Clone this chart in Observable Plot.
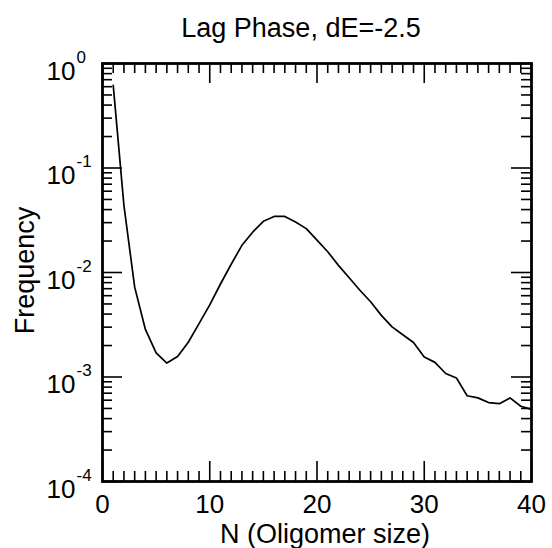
<!DOCTYPE html>
<html>
<head>
<meta charset="utf-8">
<script src="https://cdn.jsdelivr.net/npm/d3@7"></script>
<script src="https://cdn.jsdelivr.net/npm/@observablehq/plot@0.6"></script>
<style>
  html, body { margin: 0; padding: 0; background: #fff; }
</style>
</head>
<body>
<div id="chart"></div>
<script>
// ---- data ----
const titleText = "Lag Phase, dE=-2.5";
const xLabel = "N (Oligomer size)";
const yLabel = "Frequency";
const sizes = [1,2,3,4,5,6,7,8,9,10,11,12,13,14,15,16,17,18,19,20,
               21,22,23,24,25,26,27,28,29,30,31,32,33,34,35,36,37,38,39,40];
const frequency = [0.617,0.0437,0.00724,0.00285,0.0017,0.00136,0.00157,0.00215,0.00324,0.0049,
                   0.00776,0.0120,0.0182,0.0243,0.0309,0.0344,0.0344,0.0304,0.0263,0.0204,
                   0.0158,0.0117,0.0089,0.00676,0.00525,0.00389,0.00302,0.00254,0.00214,0.00155,
                   0.00138,0.00108,0.000977,0.000661,0.000631,0.000569,0.000556,0.000631,0.000525,0.00049];
const xMajorTicks = [0,10,20,30,40];
const yDecadeExponents = [0,-1,-2,-3,-4];
const yMinorMultipliers = [2,3,4,5,6,7,8,9];

// ---- derived tables ----
const series = sizes.map((n, i) => ({n, f: frequency[i]}));
const xMinorTicks = d3.range(0, 41, 1).filter(v => v % 10 !== 0);
const yMajorTicks = yDecadeExponents.map(e => Math.pow(10, e));
const yMinorTicks = [];
for (const e of yDecadeExponents) if (e < 0) for (const m of yMinorMultipliers) yMinorTicks.push(m * Math.pow(10, e));

const W = 552, H = 548;
const mL = 102, mR = 21, mT = 63, mB = 67;
const innerW = W - mL - mR, innerH = H - mT - mB;
const majorLen = 20, minorLen = 10;
const font = "'Liberation Sans', Arial, Helvetica, sans-serif";

const chart = Plot.plot({
  width: W, height: H,
  marginLeft: mL, marginRight: mR, marginTop: mT, marginBottom: mB,
  style: {fontFamily: font, background: "#fff", color: "#000", overflow: "visible"},
  x: {domain: [0, 40], axis: null},
  y: {type: "log", domain: [1e-4, 1], axis: null},
  marks: [
    // x ticks bottom & top
    Plot.ruleX(xMinorTicks, {x: d => d, insetTop: innerH - minorLen, stroke: "#000", strokeWidth: 1.6}),
    Plot.ruleX(xMajorTicks, {x: d => d, insetTop: innerH - majorLen, stroke: "#000", strokeWidth: 1.6}),
    Plot.ruleX(xMinorTicks, {x: d => d, insetBottom: innerH - minorLen, stroke: "#000", strokeWidth: 1.6}),
    Plot.ruleX(xMajorTicks, {x: d => d, insetBottom: innerH - majorLen, stroke: "#000", strokeWidth: 1.6}),
    // y ticks left & right
    Plot.ruleY(yMinorTicks, {y: d => d, insetRight: innerW - minorLen, stroke: "#000", strokeWidth: 1.6}),
    Plot.ruleY(yMajorTicks, {y: d => d, insetRight: innerW - majorLen, stroke: "#000", strokeWidth: 1.6}),
    Plot.ruleY(yMinorTicks, {y: d => d, insetLeft: innerW - minorLen, stroke: "#000", strokeWidth: 1.6}),
    Plot.ruleY(yMajorTicks, {y: d => d, insetLeft: innerW - majorLen, stroke: "#000", strokeWidth: 1.6}),
    // curve
    Plot.line(series, {x: "n", y: "f", stroke: "#000", strokeWidth: 1.7}),
    // frame
    Plot.frame({stroke: "#000", strokeWidth: 2.8}),
    // x tick labels
    Plot.text(xMajorTicks, {x: d => d, frameAnchor: "bottom", lineAnchor: "middle", textAnchor: "middle", text: d => String(d), dy: 23, fontSize: 26, fill: "#000"}),
    // y tick labels: base and exponent
    Plot.text(yMajorTicks, {y: d => d, frameAnchor: "left", lineAnchor: "middle", text: () => "10", textAnchor: "end", dx: -27, dy: 7.7, fontSize: 26, fill: "#000"}),
    Plot.text(yDecadeExponents, {y: e => Math.pow(10, e), frameAnchor: "left", lineAnchor: "middle", text: e => String(e), textAnchor: "start", dx: -26, dy: -6, fontSize: 17, fill: "#000"}),
    // axis labels
    Plot.text([xLabel], {frameAnchor: "bottom", lineAnchor: "middle", textAnchor: "middle", text: d => d, dy: 53, dx: 8, fontSize: 27, fill: "#000"}),
    Plot.text([yLabel], {frameAnchor: "left", lineAnchor: "middle", textAnchor: "middle", text: d => d, rotate: -90, dx: -77, dy: -2, fontSize: 27, fill: "#000"}),
    // title
    Plot.text([titleText], {frameAnchor: "top", lineAnchor: "middle", textAnchor: "middle", text: d => d, dy: -35.5, dx: -16, fontSize: 27, fill: "#000"})
  ]
});
document.getElementById("chart").appendChild(chart);
</script>
</body>
</html>
